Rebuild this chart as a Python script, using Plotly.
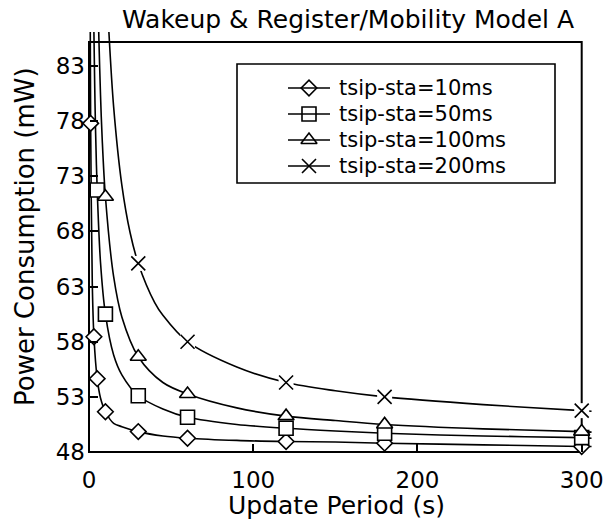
import plotly.graph_objects as go

# ---------------------------------------------------------------------------
# Data: power consumption (mW) versus update period (s)
# ---------------------------------------------------------------------------
series_names = ["tsip-sta=10ms", "tsip-sta=50ms", "tsip-sta=100ms", "tsip-sta=200ms"]

# marked sample points
mark_x_10 = [1, 3, 5, 10, 30, 60, 120, 180, 300]
mark_y_10 = [77.8, 58.45, 54.65, 51.65, 49.85, 49.25, 48.95, 48.8, 48.5]
mark_x_50 = [5, 10, 30, 60, 120, 180, 300]
mark_y_50 = [71.75, 60.5, 53.1, 51.15, 50.15, 49.7, 49.3]
mark_x_100 = [10, 30, 60, 120, 180, 300]
mark_y_100 = [71.15, 56.64, 53.26, 51.25, 50.5, 49.85]
mark_x_200 = [30, 60, 120, 180, 300]
mark_y_200 = [65.1, 58.0, 54.3, 53.0, 51.75]

# traced curves
curve_x_10 = [0.75, 1, 2, 3, 5, 7, 10, 15, 20, 30, 45, 60, 90, 120, 150, 180, 240, 300, 306]
curve_y_10 = [87.0, 77.8, 63.3, 58.45, 54.65, 52.9, 51.65, 50.6, 50.3, 49.85, 49.45, 49.25,
              49.05, 48.95, 48.9, 48.8, 48.65, 48.5, 48.5]
curve_x_50 = [2.9, 3.5, 4, 5, 7, 10, 15, 20, 30, 45, 60, 90, 120, 150, 180, 240, 300, 306]
curve_y_50 = [87.0, 81.0, 77.1, 71.75, 65.2, 60.5, 56.8, 55.0, 53.1, 51.9, 51.15, 50.5,
              50.15, 49.9, 49.7, 49.45, 49.3, 49.25]
curve_x_100 = [5.7, 6, 7, 8, 10, 15, 20, 30, 45, 60, 90, 120, 150, 180, 240, 300, 306]
curve_y_100 = [87.5, 85.6, 80.4, 76.5, 71.15, 63.9, 60.25, 56.64, 54.3, 53.26, 52.0, 51.25,
               50.85, 50.5, 50.1, 49.85, 49.8]
curve_x_200 = [11, 12, 15, 20, 25, 30, 40, 45, 60, 90, 120, 150, 180, 240, 300, 306]
curve_y_200 = [89.6, 86.4, 79.3, 72.2, 67.9, 65.1, 61.55, 60.4, 58.0, 55.7, 54.3, 53.55,
               53.0, 52.3, 51.75, 51.7]

x_ticks = [0, 100, 200, 300]
y_ticks = [48, 53, 58, 63, 68, 73, 78, 83]

# ---------------------------------------------------------------------------
# Layout geometry (pixels)
# ---------------------------------------------------------------------------
W, H = 616, 522
ML, MR, MT, MB = 87, 22, 32, 68
PW, PH = W - ML - MR, H - MT - MB
X0_PX, X300_PX = 89.0, 581.7       # where x=0 and x=300 fall
Y48_PX, Y83_PX = 452.0, 66.0       # where y=48 and y=83 fall
ppx = (X300_PX - X0_PX) / 300.0
ppy = (Y48_PX - Y83_PX) / 35.0
x_range = [-(X0_PX - ML) / ppx, -(X0_PX - ML) / ppx + PW / ppx]
y_range = [48 - (H - MB - Y48_PX) / ppy, 48 - (H - MB - Y48_PX) / ppy + PH / ppy]
frame_top = 48 + (Y48_PX - 42.0) / ppy


def px_to_paper_x(px):
    return (px - ML) / PW


def px_to_paper_y(py):
    return (H - MB - py) / PH


FONT = "DejaVu Sans"
BLACK = "#000000"
LW = 1.6

styles = [
    dict(symbol="diamond", size=12),
    dict(symbol="square", size=14),
    dict(symbol="triangle-up", size=14),
    dict(symbol="x-thin-open", size=14),
]
curves = [(curve_x_10, curve_y_10), (curve_x_50, curve_y_50),
          (curve_x_100, curve_y_100), (curve_x_200, curve_y_200)]
marks = [(mark_x_10, mark_y_10), (mark_x_50, mark_y_50),
         (mark_x_100, mark_y_100), (mark_x_200, mark_y_200)]


def marker_style(st):
    if st["symbol"].startswith("x"):
        return dict(symbol=st["symbol"], size=st["size"], color=BLACK,
                    line=dict(color=BLACK, width=LW))
    return dict(symbol=st["symbol"], size=st["size"], color="white",
                line=dict(color=BLACK, width=LW))


fig = go.Figure()

for (cx, cy) in curves:
    fig.add_trace(go.Scatter(
        x=cx, y=cy, mode="lines", showlegend=False, hoverinfo="skip",
        line=dict(color=BLACK, width=LW, shape="spline", smoothing=0.9),
    ))

for name, (mx, my), st in zip(series_names, marks, styles):
    if st["symbol"].startswith("x"):
        # white patch so the curve breaks around the cross
        fig.add_trace(go.Scatter(
            x=mx, y=my, mode="markers", showlegend=False, hoverinfo="skip",
            cliponaxis=False,
            marker=dict(symbol="square", size=15, color="white", line=dict(width=0)),
        ))
    fig.add_trace(go.Scatter(
        x=mx, y=my, mode="markers", showlegend=False, name=name,
        cliponaxis=False, marker=marker_style(st),
    ))

# ---------------------------------------------------------------------------
# Legend, laid out in pixel space on an overlay axis pair
# ---------------------------------------------------------------------------
LEG_BOX = (237, 64, 555, 183)
LEG_ROW0, LEG_DY = 88, 26
LEG_LINE = (288, 330)
LEG_TEXT_X = 337

shapes = []
annotations = []
for i, (name, st) in enumerate(zip(series_names, styles)):
    yc = LEG_ROW0 + LEG_DY * i
    shapes.append(dict(type="line", xref="x2", yref="y2", x0=LEG_LINE[0], x1=LEG_LINE[1],
                       y0=yc, y1=yc, line=dict(color=BLACK, width=LW)))
    if st["symbol"].startswith("x"):
        fig.add_trace(go.Scatter(
            x=[(LEG_LINE[0] + LEG_LINE[1]) / 2], y=[yc], xaxis="x2", yaxis="y2",
            mode="markers", showlegend=False, hoverinfo="skip", cliponaxis=False,
            marker=dict(symbol="square", size=13, color="white", line=dict(width=0)),
        ))
    fig.add_trace(go.Scatter(
        x=[(LEG_LINE[0] + LEG_LINE[1]) / 2], y=[yc], xaxis="x2", yaxis="y2",
        mode="markers", showlegend=False, hoverinfo="skip", cliponaxis=False,
        marker=marker_style(st),
    ))
    annotations.append(dict(text=name, xref="x2", yref="y2", x=LEG_TEXT_X, y=yc,
                            xanchor="left", yanchor="middle", showarrow=False,
                            font=dict(size=21)))

shapes.append(dict(type="rect", xref="x2", yref="y2",
                   x0=LEG_BOX[0], x1=LEG_BOX[2], y0=LEG_BOX[1], y1=LEG_BOX[3],
                   line=dict(color=BLACK, width=LW), fillcolor="rgba(0,0,0,0)"))

# plot frame
shapes.append(dict(type="rect", xref="x", yref="y", x0=0, x1=300, y0=48, y1=frame_top,
                   line=dict(color=BLACK, width=2), fillcolor="rgba(0,0,0,0)", layer="below"))

titles = [
    dict(text="Wakeup &amp; Register/Mobility Model A", x=px_to_paper_x(348),
         y=px_to_paper_y(20), font=dict(size=25)),
    dict(text="Update Period (s)", x=px_to_paper_x(336), y=px_to_paper_y(505),
         font=dict(size=25)),
    dict(text="Power Consumption (mW)", x=px_to_paper_x(25), y=px_to_paper_y(237),
         font=dict(size=26), textangle=-90),
]
for a in titles:
    a.update(xref="paper", yref="paper", showarrow=False, xanchor="center", yanchor="middle")
annotations.extend(titles)

fig.update_layout(
    width=W, height=H,
    margin=dict(l=ML, r=MR, t=MT, b=MB),
    paper_bgcolor="white", plot_bgcolor="white",
    font=dict(family=FONT, color=BLACK, size=21),
    showlegend=False,
    shapes=shapes,
    annotations=annotations,
    xaxis=dict(range=x_range, tickvals=x_ticks, ticks="inside", ticklen=8, tickwidth=LW,
               tickcolor=BLACK, showgrid=False, zeroline=False, showline=False,
               anchor="free", position=(H - MB - Y48_PX) / PH,
               ticklabelstandoff=12, tickfont=dict(size=23)),
    yaxis=dict(range=y_range, tickvals=y_ticks, ticks="inside", ticklen=8, tickwidth=LW,
               tickcolor=BLACK, showgrid=False, zeroline=False, showline=False,
               anchor="free", position=(X0_PX - ML) / PW,
               ticklabelstandoff=4, tickfont=dict(size=23)),
    xaxis2=dict(overlaying="x", range=[ML, W - MR], visible=False, fixedrange=True),
    yaxis2=dict(overlaying="y", range=[H - MB, MT], visible=False, fixedrange=True),
)

fig.write_html("out.html")
